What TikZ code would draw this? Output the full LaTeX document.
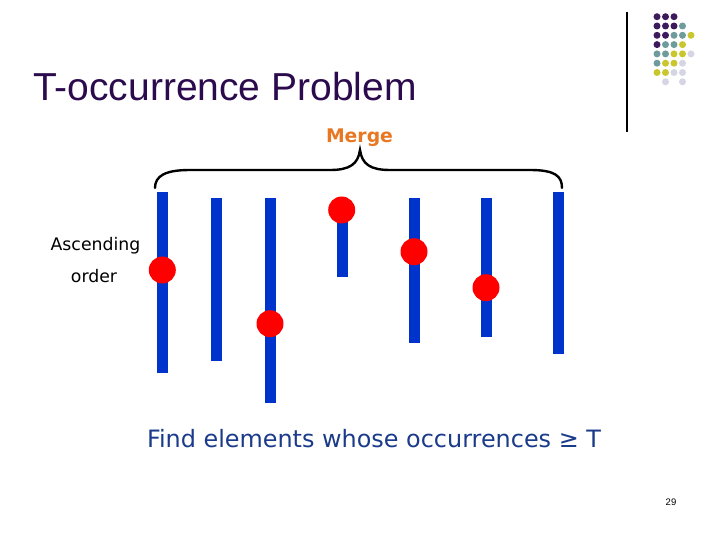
\documentclass[tikz,border=0pt]{standalone}
\usepackage{fontspec}
\setmainfont{Liberation Sans}
\newfontfamily\dejavu{DejaVu Sans}
\definecolor{titlecol}{HTML}{2B0A4D}
\definecolor{findcol}{HTML}{1A3A8A}
\definecolor{mergecol}{HTML}{E87722}
\definecolor{barcol}{HTML}{0033CC}
\definecolor{dotred}{HTML}{FF0000}
\definecolor{gP}{HTML}{3C1A5B}
\definecolor{gT}{HTML}{6E9B9B}
\definecolor{gY}{HTML}{C9C72D}
\definecolor{gL}{HTML}{D5D5E3}
\tikzset{
  bar/.style={fill=barcol},
  ball/.style={circle, fill=dotred, inner sep=0pt, minimum size=27pt},
  txt/.style={inner sep=0pt, outer sep=0pt},
  gdot/.style={fill=#1},
}
\begin{document}
\begin{tikzpicture}[x=1pt,y=-1pt]
\useasboundingbox (0,0) rectangle (720,540);
% title
\node[txt, anchor=base west, text=titlecol, font=\fontsize{39}{40}\selectfont] (title) at (33,100.5) {T-occurrence Problem};
% separator line
\draw[line width=1.3pt] (627,12) -- (627,132);
% dot grid
\foreach \row/\cols in {0/{0/gP,1/gP,2/gP},
                        1/{0/gP,1/gP,2/gP,3/gT},
                        2/{0/gP,1/gP,2/gT,3/gT,4/gY},
                        3/{0/gP,1/gT,2/gT,3/gY},
                        4/{0/gT,1/gT,2/gY,3/gY,4/gL},
                        5/{0/gT,1/gY,2/gY,3/gL},
                        6/{0/gY,1/gY,2/gL,3/gL},
                        7/{1/gL,3/gL}} {
  \foreach \c/\col in \cols {
    \fill[gdot=\col] ({657+8.5*\c},{16.7+9.3*\row}) circle (3.5);
  }
}
% Merge label and brace
\node[txt, anchor=base, text=mergecol, font=\dejavu\bfseries\fontsize{18.8}{20}\selectfont] (merge) at (359.5,142.3) {Merge};
\draw[line width=2.4pt, line cap=round] (155,188) .. controls (155,176) and (165,170) .. (190,170)
  -- (330,170) .. controls (350,170) and (358,164) .. (360,150)
  .. controls (362,164) and (370,170) .. (390,170) -- (530,170)
  .. controls (555,170) and (562,176) .. (562,188);
% bars
\fill[bar] (157.2,192) rectangle (167.8,372.5);
\fill[bar] (211,198.3) rectangle (222,360.7);
\fill[bar] (265,198.3) rectangle (276,402.7);
\fill[bar] (337.3,205) rectangle (348,276.7);
\fill[bar] (409,198.3) rectangle (420,342.7);
\fill[bar] (481,198.3) rectangle (491.7,336.7);
\fill[bar] (553,192.3) rectangle (563.7,354.3);
% red balls
\node[ball] (b1) at (162.3,270) {};
\node[ball] (b3) at (270,323.7) {};
\node[ball] (b4) at (341.7,210) {};
\node[ball] (b5) at (414,251.7) {};
\node[ball] (b6) at (486,287.7) {};
% side labels
\node[txt, anchor=base, font=\dejavu\fontsize{17.3}{18}\selectfont] (asc) at (95.5,250) {Ascending};
\node[txt, anchor=base, font=\dejavu\fontsize{17.3}{18}\selectfont] (ord) at (94,282.3) {order};
% bottom text
\node[txt, anchor=base west, text=findcol, font=\dejavu\fontsize{23.9}{25}\selectfont] (find) at (147,447) {Find elements whose occurrences ≥ T};
% page number
\node[txt, anchor=base, font=\fontsize{9.5}{10}\selectfont] (pg) at (671,505) {29};
\end{tikzpicture}
\end{document}
